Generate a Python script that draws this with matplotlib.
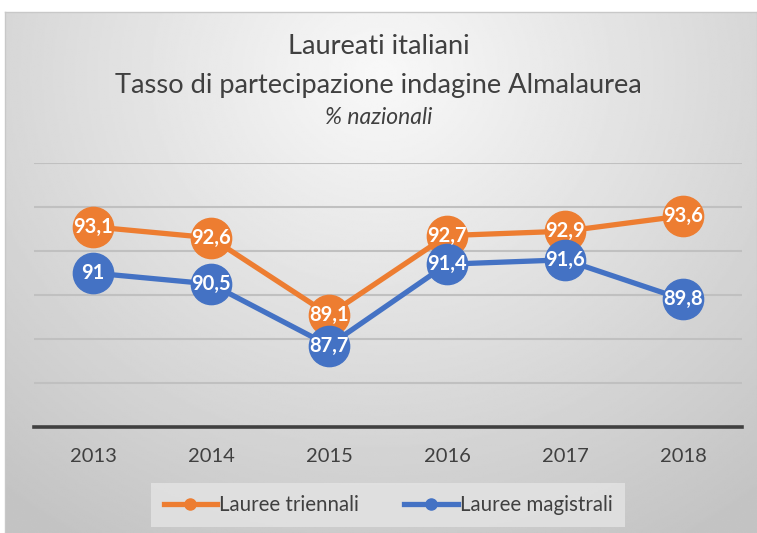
import numpy as np
import matplotlib
matplotlib.use('Agg')
import matplotlib.pyplot as plt
from matplotlib.lines import Line2D

plt.rcParams['font.family'] = ['Lato', 'DejaVu Sans']

anni = ['2013', '2014', '2015', '2016', '2017', '2018']
triennali = [93.1, 92.6, 89.1, 92.7, 92.9, 93.6]
magistrali = [91, 90.5, 87.7, 91.4, 91.6, 89.8]

ORANGE = '#ED7D31'
BLUE = '#4472C4'
W, H = 757, 533

fig = plt.figure(figsize=(W / 100, H / 100), dpi=100)

# chart area background: radial gradient, light at top centre
bg = fig.add_axes([5 / W, 0, 1 - 5 / W, (H - 12) / H], zorder=-2)
yy, xx = np.mgrid[0:1:300j, 0:1:400j]
r = np.sqrt(((xx - 0.5) / 0.72) ** 2 + ((yy - 0.12) / 0.95) ** 2)
shade = 0.975 - 0.19 * np.clip(r, 0, 1.1)
bg.imshow(shade, cmap='gray', vmin=0, vmax=1, aspect='auto',
          extent=(0, 1, 0, 1), origin='upper')
bg.set_xticks([])
bg.set_yticks([])
for s in bg.spines.values():
    s.set_color('#c8c8c8')
    s.set_linewidth(1)

ax = fig.add_axes([34 / W, (H - 427) / H, (742 - 34) / W, (427 - 163) / H])
ax.patch.set_alpha(0)
x = np.arange(len(anni))

ax.plot(x, triennali, color=ORANGE, lw=3.8, marker='o', ms=29,
        solid_capstyle='round', zorder=3)
ax.plot(x, magistrali, color=BLUE, lw=3.8, marker='o', ms=29,
        solid_capstyle='round', zorder=4)

for xi, v in zip(x, triennali):
    ax.text(xi, v, f'{v:g}'.replace('.', ','), ha='center', va='center',
            color='white', fontsize=14.5, fontweight='bold', zorder=6)
for xi, v in zip(x, magistrali):
    ax.text(xi, v, f'{v:g}'.replace('.', ','), ha='center', va='center',
            color='white', fontsize=14.5, fontweight='bold', zorder=6)

ax.set_xlim(-0.5, 5.5)
ax.set_ylim(84, 96)
ax.set_yticks(np.arange(86, 97, 2))
ax.yaxis.grid(True, color='#c0c0c0', lw=1.5)
ax.tick_params(axis='y', left=False, labelleft=False)
ax.set_xticks(x)
ax.set_xticklabels(anni)
ax.tick_params(axis='x', length=0, pad=15, labelsize=14.5, labelcolor='#404040')
for side in ['top', 'right', 'left']:
    ax.spines[side].set_visible(False)
ax.spines['bottom'].set_color('#404040')
ax.spines['bottom'].set_linewidth(2.6)

fig.text(0.5, 1 - 47 / H, 'Laureati italiani', ha='center', va='center',
         fontsize=19.6, color='#404040')
fig.text(0.5, 1 - 85 / H, 'Tasso di partecipazione indagine Almalaurea',
         ha='center', va='center', fontsize=19.6, color='#404040')
fig.text(0.5, 1 - 118 / H, '% nazionali', ha='center', va='center',
         fontsize=16.5, style='italic', color='#404040')

handles = [Line2D([], [], color=ORANGE, lw=3.8, marker='o', ms=8),
           Line2D([], [], color=BLUE, lw=3.8, marker='o', ms=8)]
leg = fig.legend(handles, ['Lauree triennali', 'Lauree magistrali'],
                 loc='center', bbox_to_anchor=(388 / W, 1 - 505 / H),
                 ncol=2, fontsize=14.8, frameon=True, fancybox=False,
                 handlelength=2.6, handletextpad=0.1, columnspacing=2.2,
                 borderpad=0.6)
leg.get_frame().set_facecolor('#e4e4e4')
leg.get_frame().set_edgecolor('none')
for t in leg.get_texts():
    t.set_color('#404040')

fig.savefig('out.png', dpi=100)
